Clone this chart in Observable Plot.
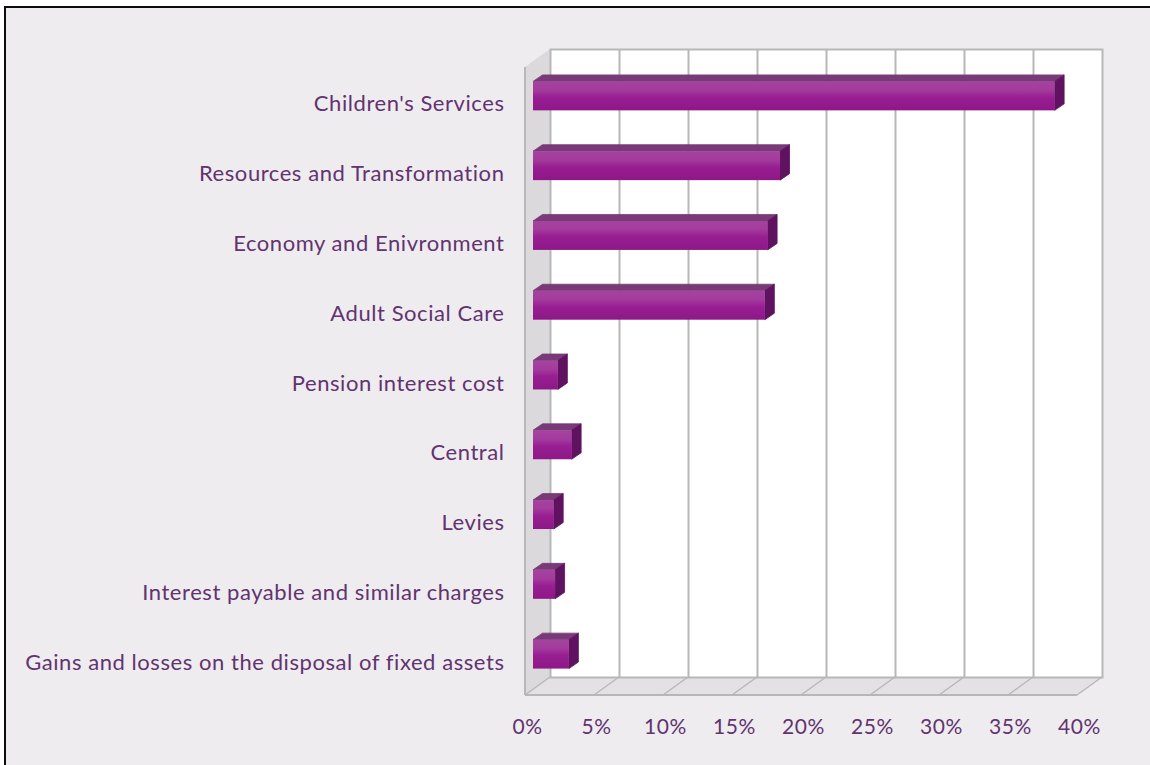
<!DOCTYPE html>
<html>
<head>
<meta charset="utf-8">
<script src="https://cdn.jsdelivr.net/npm/d3@7"></script>
<script src="https://cdn.jsdelivr.net/npm/@observablehq/plot@0.6"></script>
<style>
  html, body { margin: 0; padding: 0; background: #fff; overflow: hidden; }
  #page { position: absolute; left: 4px; top: 6px; right: 0; bottom: 0; background: #eeecef;
          border-left: 2.5px solid #0c0c0c; border-top: 2.5px solid #0c0c0c; }
  #chart { position: absolute; left: 0; top: 0; }
  #chart svg { background: transparent; display: block; }
</style>
</head>
<body>
<div id="page"></div>
<div id="chart"></div>
<script>
// Share of spending per service area, in percent
const services = [
  "Children's Services",
  "Resources and Transformation",
  "Economy and Enivronment",
  "Adult Social Care",
  "Pension interest cost",
  "Central",
  "Levies",
  "Interest payable and similar charges",
  "Gains and losses on the disposal of fixed assets"
];
const shares = [37.8, 17.9, 17.0, 16.8, 1.8, 2.8, 1.5, 1.6, 2.6];
const percentTicks = [0, 5, 10, 15, 20, 25, 30, 35, 40];

const rows = services.map((name, i) => ({name, share: shares[i]}));

// Oblique projection of the box: the chart floor recedes by (wallX, wallY).
// Each bar is set back by (barX, barY) and has a depth of (depthX, depthY).
const wallX = 25;
const wallY = -18;
const barX = 8;
const barY = -6;
const depthX = 9.5;
const depthY = -6.5;
const lineColor = "#b7b7b7";
const inkColor = "#623370";

const polygon = (points, fill, stroke) => {
  const p = document.createElementNS("http://www.w3.org/2000/svg", "polygon");
  p.setAttribute("points", points.map((q) => q.join(",")).join(" "));
  p.setAttribute("fill", fill);
  if (stroke) { p.setAttribute("stroke", stroke); p.setAttribute("stroke-width", 0.8); }
  return p;
};

// Replaces each bar's rectangle with a polygon computed from its corners
const barFace = (corners, fill) => (index, scales, values, dimensions, context, next) => {
  const g = next(index, scales, values, dimensions, context);
  for (const r of [...g.querySelectorAll("rect")]) {
    const x = +r.getAttribute("x"), y = +r.getAttribute("y");
    const w = +r.getAttribute("width"), h = +r.getAttribute("height");
    r.replaceWith(polygon(corners(x, y, w, h), fill, fill));
  }
  return g;
};

const defs = () => {
  const svg = d3.create("svg:defs");
  const grad = svg.append("linearGradient")
    .attr("id", "barFront").attr("x1", 0).attr("x2", 0).attr("y1", 0).attr("y2", 1);
  [[0, "#a5439f"], [0.3, "#a33b9d"], [0.55, "#981e92"], [1, "#8e1888"]].forEach(([o, c]) =>
    grad.append("stop").attr("offset", o).attr("stop-color", c));
  return svg.node();
};

// Left wall and floor of the box, tied to the x scale and the plot frame
const shell = (index, {x}, values, {marginTop, height, marginBottom}) => {
  const g = d3.create("svg:g");
  const top = marginTop, bottom = height - marginBottom;
  const x0 = x(0), x1 = x(40);
  g.node().append(polygon([[x0, top], [x0 + wallX, top + wallY], [x0 + wallX, bottom + wallY], [x0, bottom]], "#dbd9dc"));
  g.node().append(polygon([[x0, bottom], [x0 + wallX, bottom + wallY], [x1 + wallX, bottom + wallY], [x1, bottom]], "#e3e1e4"));
  return g.node();
};

// Slanted floor lines and the two front edges of the box
const shellLines = (index, {x}, values, {marginTop, height, marginBottom}) => {
  const g = d3.create("svg:g").attr("stroke", lineColor).attr("fill", "none");
  const top = marginTop, bottom = height - marginBottom;
  for (const t of percentTicks) {
    g.append("line").attr("x1", x(t)).attr("x2", x(t) + wallX)
      .attr("y1", bottom).attr("y2", bottom + wallY).attr("stroke-width", 1.4);
  }
  g.append("line").attr("x1", x(0)).attr("x2", x(0)).attr("y1", top).attr("y2", bottom).attr("stroke-width", 2);
  g.append("line").attr("x1", x(0)).attr("x2", x(40)).attr("y1", bottom).attr("y2", bottom).attr("stroke-width", 2);
  return g.node();
};

const chart = Plot.plot({
  width: 1150,
  height: 765,
  marginLeft: 525,
  marginRight: 73,
  marginTop: 67,
  marginBottom: 70,
  style: {fontFamily: "Lato", letterSpacing: "0.56px", background: "transparent"},
  x: {domain: [0, 40]},
  y: {domain: services, paddingInner: 0.585, paddingOuter: 0.2925, round: false},
  marks: [
    defs,
    shell,
    Plot.frame({fill: "white", stroke: lineColor, strokeWidth: 2, dx: wallX, dy: wallY}),
    Plot.ruleX(percentTicks.slice(1, -1), {stroke: lineColor, strokeWidth: 2, dx: wallX, dy: wallY}),
    shellLines,
    // Bar faces: top, right end, then the gradient front
    Plot.barX(rows, {
      x: "share", y: "name", dx: barX, dy: barY,
      render: barFace((x, y, w) => [[x, y], [x + depthX, y + depthY], [x + w + depthX, y + depthY], [x + w, y]], "#793a78")
    }),
    Plot.barX(rows, {
      x: "share", y: "name", dx: barX, dy: barY,
      render: barFace((x, y, w, h) => [[x + w, y], [x + w + depthX, y + depthY], [x + w + depthX, y + h + depthY], [x + w, y + h]], "#5f1260")
    }),
    Plot.barX(rows, {x: "share", y: "name", dx: barX, dy: barY, fill: "url(#barFront)"}),
    Plot.axisY({
      tickSize: 0, tickPadding: 21, label: null, fontSize: 22, fill: inkColor, dy: 2
    }),
    Plot.axisX(percentTicks, {
      tickSize: 0, tickPadding: 24, label: null, fontSize: 21, fill: inkColor, dx: 2,
      tickFormat: (d) => d + "%"
    })
  ]
});

document.getElementById("chart").append(chart);
</script>
</body>
</html>
